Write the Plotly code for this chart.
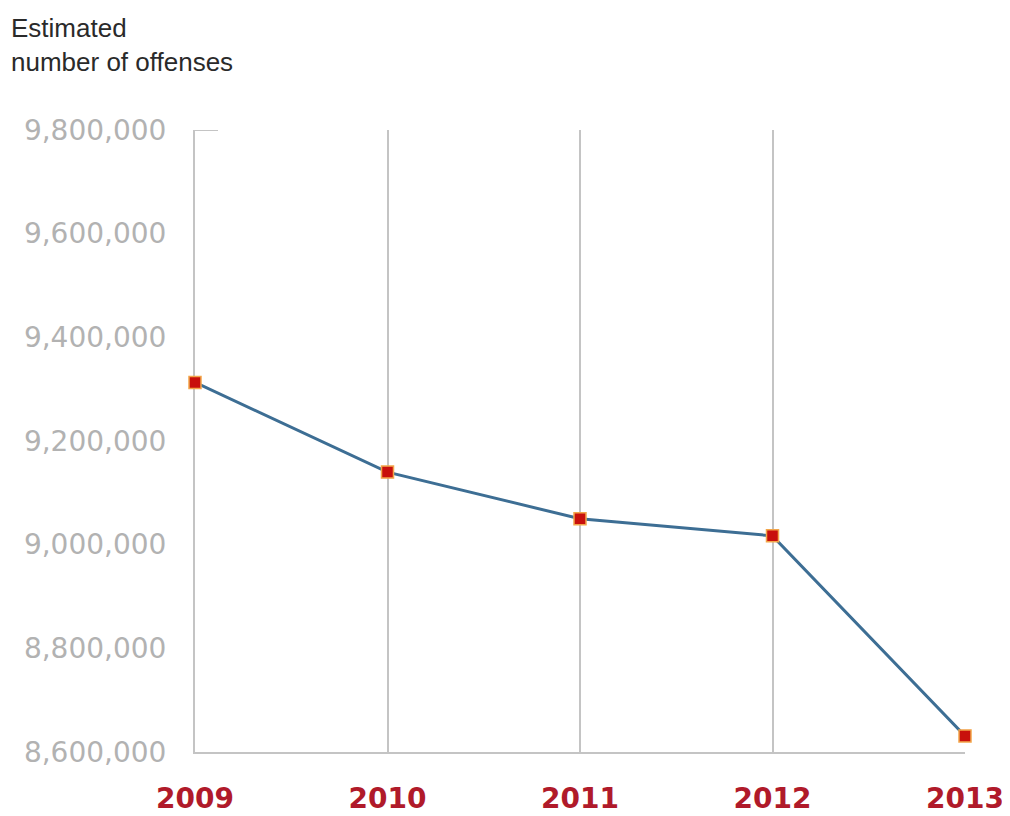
import plotly.graph_objects as go

years = [2009, 2010, 2011, 2012, 2013]
offenses = [9313000, 9140000, 9050000, 9017000, 8631000]
y_ticks = [8600000, 8800000, 9000000, 9200000, 9400000, 9600000, 9800000]
y_tick_labels = ["8,600,000", "8,800,000", "9,000,000", "9,200,000", "9,400,000", "9,600,000", "9,800,000"]
x_tick_labels = ["2009", "2010", "2011", "2012", "2013"]

fig = go.Figure()
fig.add_trace(go.Scatter(
    x=years, y=offenses, mode="lines+markers",
    line=dict(color="#3d6e94", width=3),
    marker=dict(symbol="square", size=12, color="#c8100c",
                line=dict(color="#f2a54a", width=1.5)),
    cliponaxis=False, showlegend=False,
))

fig.update_layout(
    width=1002, height=808,
    margin=dict(l=187, r=45, t=122, b=64, pad=0),
    paper_bgcolor="white", plot_bgcolor="white",
    font=dict(family="Liberation Sans, Arial, sans-serif"),
    xaxis=dict(
        range=[2009, 2013], tickmode="array", tickvals=years, ticktext=x_tick_labels,
        showgrid=True, gridcolor="#c4c4c4", gridwidth=1.5,
        showline=True, linecolor="#c4c4c4", linewidth=2,
        zeroline=False, ticks="", automargin=False, layer="below traces",
        tickfont=dict(size=28, color="#b01a2a", family="DejaVu Sans", weight="bold"),
        ticklabelstandoff=20,
    ),
    yaxis=dict(
        range=[8600000, 9800000], tickmode="array", tickvals=y_ticks, ticktext=y_tick_labels,
        showgrid=False, showline=True, linecolor="#c4c4c4", linewidth=2,
        zeroline=False, ticks="", automargin=False, layer="below traces",
        tickfont=dict(size=28, color="#b2b2b2", family="DejaVu Sans"),
        ticklabelstandoff=21,
    ),
    annotations=[dict(
        text="Estimated<br>number of offenses", xref="paper", yref="paper",
        x=-186/770, y=1 + 119/622, xanchor="left", yanchor="top", align="left",
        showarrow=False, font=dict(size=26, color="#2a2a2a"),
    )],
    shapes=[dict(type="line", xref="paper", yref="y", x0=-2/770, x1=23/770,
                 y0=9800000, y1=9800000, layer="below",
                 line=dict(color="#c4c4c4", width=2))],
)

fig.write_html("out.html")
